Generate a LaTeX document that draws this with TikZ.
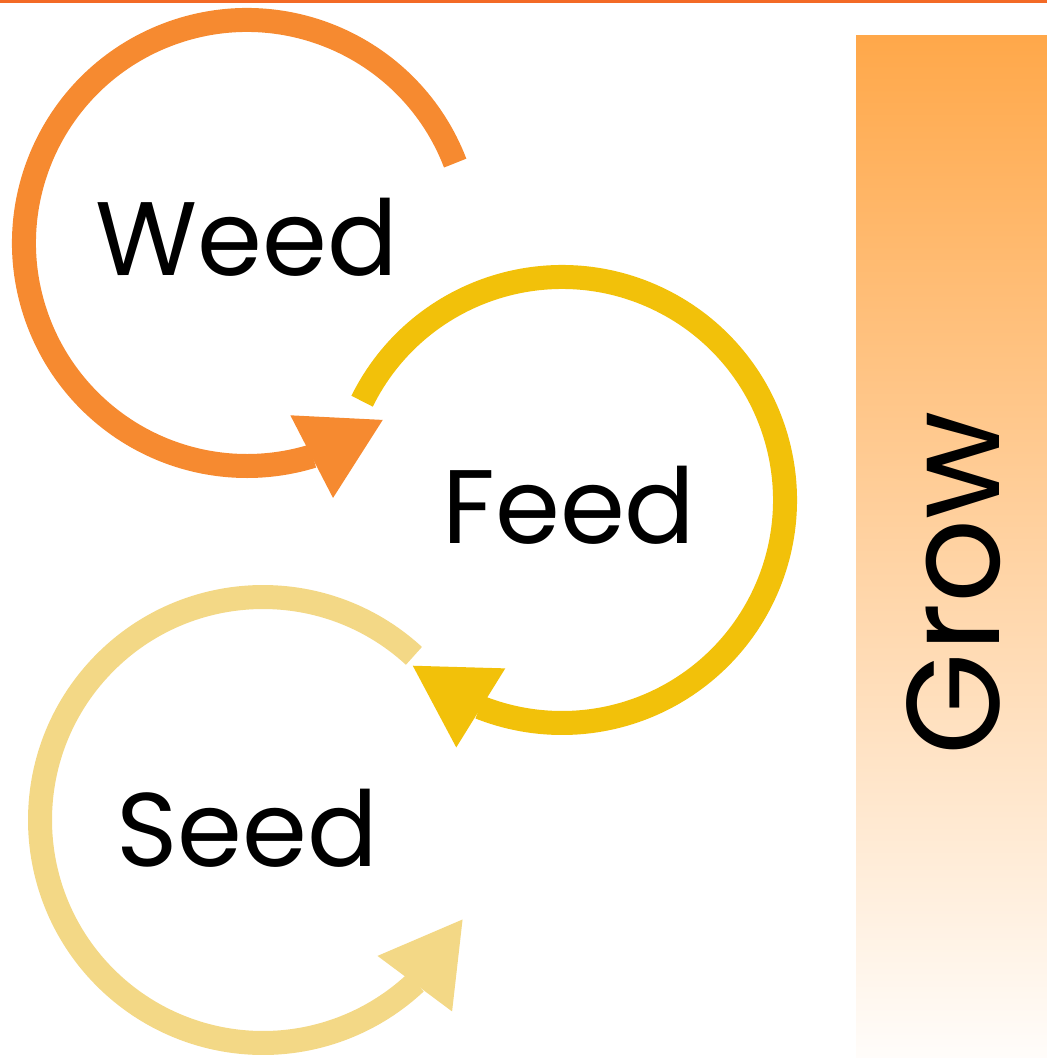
\documentclass[tikz,border=0pt]{standalone}
\usepackage{fontspec}
\setmainfont{Poppins}
\usepackage{tikz}
\usetikzlibrary{arrows.meta, bending, calc, positioning}
\definecolor{weedorange}{RGB}{246, 138, 48}
\definecolor{feedgold}{RGB}{242, 193, 10}
\definecolor{seedsand}{RGB}{243, 216, 134}
\definecolor{growtop}{RGB}{255, 168, 74}
\definecolor{topline}{RGB}{243, 106, 38}

\begin{document}
\begin{tikzpicture}[
  cycle/.style={line width=0.48cm, -{Triangle[width=1.86cm, length=1.6cm, line width=0pt, flex]}},
  word/.style={inner sep=0pt, font=\fontsize{59.5}{70}\selectfont}
]
  \useasboundingbox (0, 0) rectangle (20.94, -21.16);
  \fill[topline] (0, 0) rectangle (20.94, -0.06);
  % grow bar
  \shade[top color=growtop, bottom color=orange!2] (17.12, -0.72) rectangle (20.94, -21.16);
  \node[word, rotate=90, font=\fontsize{75}{90}\selectfont] (grow) at (19.08, -11.66) {Grow};

  \coordinate (weedc) at (4.94, -4.86);
  \coordinate (feedc) at (11.24, -10.00);
  \coordinate (seedc) at (5.26, -16.40);
  \node[word] (weed) at (4.94, -4.74) {Weed};
  \node[word] (feed) at (11.38, -10.10) {Feed};
  \node[word] (seed) at (4.94, -16.56) {Seed};

  \draw[cycle, weedorange] ($(weedc)+(21:4.46)$) arc[start angle=21, end angle=307.5, radius=4.46];
  \draw[cycle, feedgold] ($(feedc)+(153.7:4.46)$) arc[start angle=153.7, end angle=-132, radius=4.46];
  \draw[cycle, seedsand] ($(seedc)+(47.4:4.46)$) arc[start angle=47.4, end angle=333.5, radius=4.46];
\end{tikzpicture}
\end{document}
